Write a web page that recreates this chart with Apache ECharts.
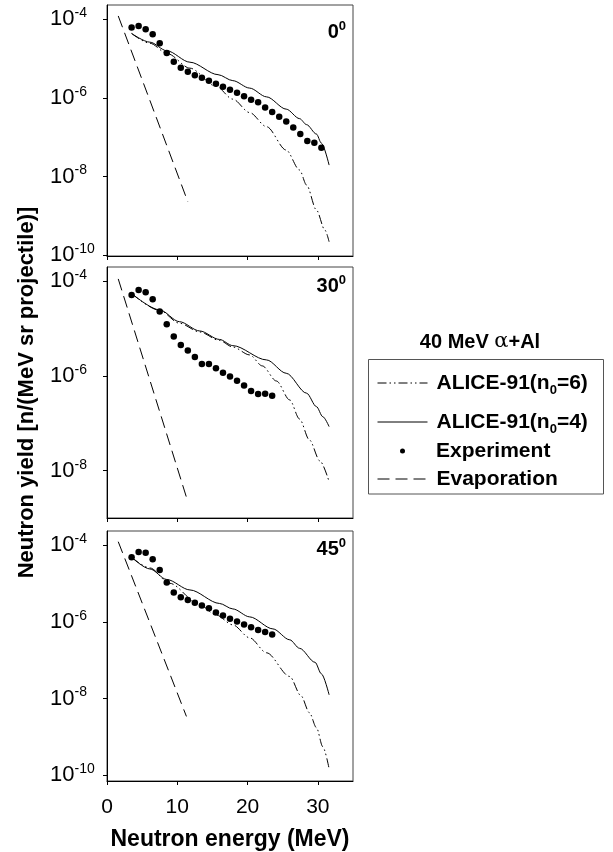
<!DOCTYPE html>
<html>
<head>
<meta charset="utf-8">
<script src="https://cdn.jsdelivr.net/npm/echarts@6.0.0/dist/echarts.min.js"></script>
<style>
  html, body { margin: 0; padding: 0; background: #fff; }
  #chart { width: 613px; height: 852px; }
</style>
</head>
<body>
<div id="chart"></div>
<script>
// legend / series names
const seriesNames = ['ALICE-91(n0=6)', 'ALICE-91(n0=4)', 'Experiment', 'Evaporation'];
const angleLabels = ['0', '30', '45'];
const xTickValues = [0, 10, 20, 30];
const yTickValues = [1e-10, 1e-8, 1e-6, 1e-4];

// ---- 0 deg ----
const exp0E = [3.5, 4.5, 5.5, 6.5, 7.5, 8.5, 9.5, 10.5, 11.5, 12.5, 13.5, 14.5, 15.5, 16.5,
  17.5, 18.5, 19.5, 20.5, 21.5, 22.5, 23.5, 24.5, 25.5, 26.5, 27.5, 28.5, 29.5, 30.5];
const exp0Y = [6.14e-5, 6.76e-5, 5.57e-5, 4.16e-5, 2.45e-5, 1.39e-5, 8.24e-6, 5.79e-6, 4.59e-6, 3.78e-6,
  3.23e-6, 2.71e-6, 2.28e-6, 1.91e-6, 1.60e-6, 1.34e-6, 1.10e-6, 8.91e-7, 7.78e-7, 5.69e-7,
  4.34e-7, 3.30e-7, 2.51e-7, 1.77e-7, 1.20e-7, 7.94e-8, 7.19e-8, 5.37e-8];
const n4_0E = [3.5, 6.1, 8.5, 11.8, 15.8, 17.9, 20.3, 22.7, 25.5, 27.4, 28.4, 29.8, 30.5, 31.6];
const n4_0Y = [4.34e-5, 2.61e-5, 1.58e-5, 8.07e-6, 3.89e-6, 2.74e-6, 1.77e-6, 1.06e-6, 5.16e-7, 2.96e-7,
  2.08e-7, 1.20e-7, 7.06e-8, 1.95e-8];
const n6_0E = [3.5, 6.1, 8.6, 11.8, 15.5, 17.9, 20.3, 22.7, 25.5, 27.4, 28.4, 29.8, 31.0, 31.6];
const n6_0Y = [4.34e-5, 2.45e-5, 1.33e-5, 5.69e-6, 1.98e-6, 9.27e-7, 4.21e-7, 1.85e-7, 4.69e-8, 1.46e-8,
  6.04e-9, 1.40e-9, 4.35e-10, 2.19e-10];
const evap0E = [1.6, 11.5];
const evap0Y = [1.21e-4, 2.28e-9];

// ---- 30 deg ----
const exp30E = [3.5, 4.5, 5.5, 6.5, 7.5, 8.5, 9.5, 10.5, 11.5, 12.5, 13.5, 14.5, 15.5, 16.5,
  17.5, 18.5, 19.5, 20.5, 21.5, 22.5, 23.5];
const exp30Y = [5.14e-5, 6.55e-5, 5.85e-5, 4.16e-5, 2.29e-5, 1.23e-5, 6.78e-6, 4.52e-6, 3.43e-6, 2.52e-6,
  1.79e-6, 1.79e-6, 1.45e-6, 1.17e-6, 9.68e-7, 7.96e-7, 6.25e-7, 4.82e-7, 4.17e-7, 4.23e-7, 3.84e-7];
const n4_30E = [3.5, 7.5, 10.3, 13.2, 16.0, 17.9, 22.7, 25.5, 28.4, 29.8, 30.7, 31.6];
const n4_30Y = [5.52e-5, 2.48e-5, 1.40e-5, 8.91e-6, 5.90e-6, 4.37e-6, 2.18e-6, 1.14e-6, 4.32e-7, 2.25e-7,
  1.38e-7, 8.51e-8];
const n6_30E = [3.5, 7.5, 10.3, 13.2, 16.0, 17.9, 20.3, 22.1, 24.1, 26.0, 27.4, 28.8, 30.3, 31.6];
const n6_30Y = [5.52e-5, 2.42e-5, 1.30e-5, 8.49e-6, 5.62e-6, 4.09e-6, 2.78e-6, 1.63e-6, 7.83e-7, 3.11e-7,
  1.23e-7, 4.45e-8, 1.60e-8, 5.86e-9];
const evap30E = [1.6, 11.5];
const evap30Y = [1.12e-4, 2.21e-9];

// ---- 45 deg ----
const exp45E = [3.5, 4.5, 5.5, 6.5, 7.5, 8.5, 9.5, 10.5, 11.5, 12.5, 13.5, 14.5, 15.5, 16.5,
  17.5, 18.5, 19.5, 20.5, 21.5, 22.5, 23.5];
const exp45Y = [4.86e-5, 6.68e-5, 6.43e-5, 4.32e-5, 2.27e-5, 1.06e-5, 5.81e-6, 4.41e-6, 3.75e-6, 3.18e-6,
  2.66e-6, 2.28e-6, 1.75e-6, 1.46e-6, 1.20e-6, 1.02e-6, 8.51e-7, 7.28e-7, 6.18e-7, 5.48e-7, 4.67e-7];
const n4_45E = [3.5, 6.1, 8.5, 11.8, 16.0, 17.9, 20.3, 23.6, 26.0, 27.4, 29.6, 30.5, 31.6];
const n4_45Y = [4.86e-5, 2.41e-5, 1.28e-5, 6.82e-6, 3.03e-6, 2.18e-6, 1.35e-6, 6.56e-7, 3.40e-7, 2.04e-7,
  8.79e-8, 4.41e-8, 1.25e-8];
const n6_45E = [3.5, 6.1, 8.9, 13.2, 15.5, 17.9, 20.3, 22.7, 26.0, 27.6, 28.8, 29.8, 30.7, 31.6];
const n6_45Y = [4.86e-5, 2.56e-5, 1.02e-5, 2.77e-6, 1.52e-6, 8.36e-7, 3.83e-7, 1.56e-7, 3.75e-8, 1.18e-8,
  4.25e-9, 1.73e-9, 5.52e-10, 1.47e-10];
const evap45E = [1.6, 11.3];
const evap45Y = [1.24e-4, 3.40e-9];

const FONT = 'Liberation Sans, Arial, sans-serif';

const panels = [
  { exp: [exp0E, exp0Y], n4: [n4_0E, n4_0Y], n6: [n6_0E, n6_0Y], ev: [evap0E, evap0Y],
    yMin: 9.5e-11, yMax: 2.3e-4, top: 5, height: 251, labelY: 32 },
  { exp: [exp30E, exp30Y], n4: [n4_30E, n4_30Y], n6: [n6_30E, n6_30Y], ev: [evap30E, evap30Y],
    yMin: 1e-9, yMax: 2.0e-4, top: 267, height: 251, labelY: 286 },
  { exp: [exp45E, exp45Y], n4: [n4_45E, n4_45Y], n6: [n6_45E, n6_45Y], ev: [evap45E, evap45Y],
    yMin: 7e-11, yMax: 2.36e-4, top: 531, height: 250, labelY: 549 }
];

const zip = (xs, ys) => xs.map((x, k) => [x, ys[k]]);

const supRich = {
  b: { fontSize: 22, fontFamily: FONT, color: '#000', lineHeight: 26, verticalAlign: 'middle' },
  s: { fontSize: 14, fontFamily: FONT, color: '#000', verticalAlign: 'top' }
};

const grid = [], xAxis = [], yAxis = [], series = [];
panels.forEach((p, i) => {
  const last = i === panels.length - 1;
  grid.push({ left: 107, width: 246, top: p.top, height: p.height, show: true,
    borderColor: '#444', borderWidth: 1, backgroundColor: 'transparent', outerBoundsMode: 'none' });
  xAxis.push({
    type: 'value', gridIndex: i, min: 0, max: 35,
    axisLine: { show: true, lineStyle: { color: '#000', width: 1 } },
    axisTick: { show: true, length: 4, customValues: xTickValues, lineStyle: { color: '#000' } },
    axisLabel: { show: last, customValues: xTickValues, fontSize: 21, fontFamily: FONT, color: '#000', margin: 16 },
    splitLine: { show: false },
    name: last ? 'Neutron energy (MeV)' : '',
    nameLocation: 'middle', nameGap: 47, nameMoveOverlap: false,
    nameTextStyle: { fontSize: 23, fontWeight: 'bold', fontFamily: FONT, color: '#000' }
  });
  yAxis.push({
    type: 'log', logBase: 10, gridIndex: i, min: p.yMin, max: p.yMax,
    axisLine: { show: true, lineStyle: { color: '#000', width: 1 } },
    axisTick: { show: true, length: 4, customValues: yTickValues, lineStyle: { color: '#000' } },
    axisLabel: {
      customValues: yTickValues, margin: 57, align: 'left',
      formatter: v => '{b|10}{s|' + Math.round(Math.log10(v)) + '}',
      rich: supRich
    },
    splitLine: { show: false },
    minorTick: { show: false },
    name: i === 1 ? 'Neutron yield [n/(MeV sr projectile)]' : '',
    nameLocation: 'middle', nameGap: 69, nameMoveOverlap: false,
    nameTextStyle: { fontSize: 22, fontWeight: 'bold', fontFamily: FONT, color: '#000' }
  });
  const common = { xAxisIndex: i, yAxisIndex: i, silent: true };
  series.push(Object.assign({
    name: seriesNames[0], type: 'line', data: zip(p.n6[0], p.n6[1]), symbol: 'none',
    smooth: 0.3, smoothMonotone: 'x', z: 2,
    lineStyle: { color: '#000', width: 1, type: [9, 3, 1.5, 3, 1.5, 3] }, itemStyle: { color: '#000' }
  }, common));
  series.push(Object.assign({
    name: seriesNames[1], type: 'line', data: zip(p.n4[0], p.n4[1]), symbol: 'none',
    smooth: 0.3, smoothMonotone: 'x', z: 2,
    lineStyle: { color: '#000', width: 1, type: 'solid' }, itemStyle: { color: '#000' }
  }, common));
  series.push(Object.assign({
    name: seriesNames[2], type: 'scatter', data: zip(p.exp[0], p.exp[1]), symbol: 'circle',
    symbolSize: 6.5, z: 3, itemStyle: { color: '#000', opacity: 1 }
  }, common));
  series.push(Object.assign({
    name: seriesNames[3], type: 'line', data: zip(p.ev[0], p.ev[1]), symbol: 'none', z: 2,
    lineStyle: { color: '#000', width: 1, type: [12, 6] }, itemStyle: { color: '#000' }
  }, common));
});

// legend: one component per row so each row sits where it does in the figure
const legendRowY = [383, 422, 451, 479];
const legendRich = {
  b: { fontSize: 21, fontWeight: 'bold', fontFamily: FONT, color: '#000', lineHeight: 28, verticalAlign: 'middle' },
  sub: { fontSize: 13, fontWeight: 'bold', fontFamily: FONT, color: '#000', verticalAlign: 'bottom' }
};
const legend = seriesNames.map((n, i) => {
  const hasSub = n.indexOf('n0') >= 0;
  const isDot = i === 2;
  return {
    data: [{ name: n, itemStyle: isDot ? { opacity: 1, color: '#000' } : { opacity: 0 } }],
    orient: 'vertical', left: isDot ? 400 : 377, top: legendRowY[i] - (hasSub ? 14 : 12),
    padding: 0, itemWidth: isDot ? 5 : 50, itemHeight: 5, selectedMode: false,
    lineStyle: { width: 1 },
    formatter: name => hasSub
      ? '{b|' + name.replace(/n0=(\d)\)/, 'n}{sub|0}{b|=$1)') + '}'
      : name,
    textStyle: { fontSize: 21, fontWeight: 'bold', fontFamily: FONT, color: '#000', lineHeight: 24,
      padding: [0, 0, 0, isDot ? 26 : 4], rich: legendRich }
  };
});

const angleRich = {
  b: { fontSize: 20, fontWeight: 'bold', fontFamily: FONT, fill: '#000', lineHeight: 24, verticalAlign: 'middle' },
  s: { fontSize: 13, fontWeight: 'bold', fontFamily: FONT, fill: '#000', verticalAlign: 'top' }
};

const graphic = [
  { type: 'rect', shape: { x: 368.5, y: 359.5, width: 235, height: 134.5 },
    style: { fill: null, stroke: '#555', lineWidth: 1 }, silent: true },
  { type: 'text', x: 480, y: 342, silent: true,
    style: { text: '{b|40 MeV }{a|α}{b|+Al}', align: 'center', verticalAlign: 'middle',
      textAlign: 'center', textVerticalAlign: 'middle',
      rich: {
        b: { fontSize: 20, fontWeight: 'bold', fontFamily: FONT, fill: '#000' },
        a: { fontSize: 21, fontFamily: 'DejaVu Serif, serif', fill: '#000' }
      } } }
];
panels.forEach((p, i) => {
  graphic.push({ type: 'text', x: 346, y: p.labelY, silent: true,
    style: { text: '{b|' + angleLabels[i] + '}{s|0}', align: 'right', verticalAlign: 'middle',
      textAlign: 'right', textVerticalAlign: 'middle', rich: angleRich } });
});

const chart = echarts.init(document.getElementById('chart'), null, { renderer: 'canvas' });
chart.setOption({
  animation: false,
  backgroundColor: '#fff',
  textStyle: { fontFamily: FONT },
  grid, xAxis, yAxis, series, legend, graphic
});
</script>
</body>
</html>
